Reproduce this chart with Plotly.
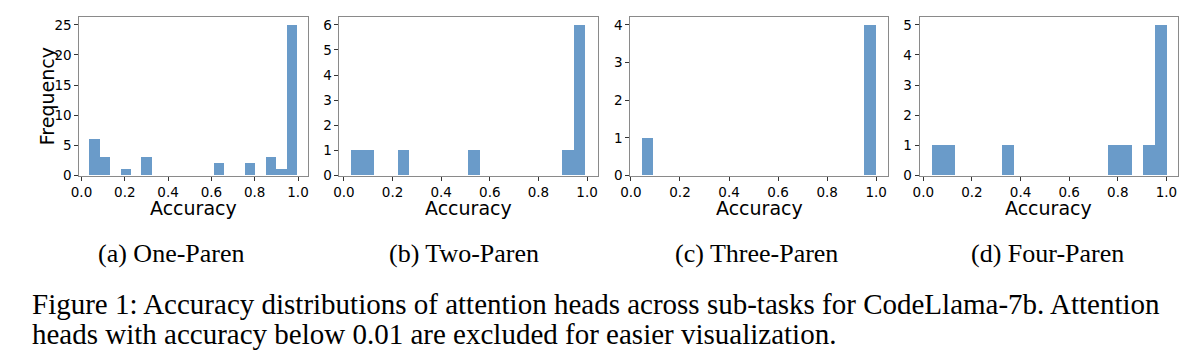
import plotly.graph_objects as go

W, H = 1200, 358

# ---- data (histogram counts, 20 bins per panel) ----
panel_captions = ["(a) One-Paren", "(b) Two-Paren", "(c) Three-Paren", "(d) Four-Paren"]
bin_lo = [0.038, 0.030, 0.045, 0.033]
bin_hi = [0.997, 0.995, 1.000, 1.000]
counts_one   = [6, 3, 0, 1, 0, 3, 0, 0, 0, 0, 0, 0, 2, 0, 0, 2, 0, 3, 1, 25]
counts_two   = [1, 1, 0, 0, 1, 0, 0, 0, 0, 0, 1, 0, 0, 0, 0, 0, 0, 0, 1, 6]
counts_three = [1, 0, 0, 0, 0, 0, 0, 0, 0, 0, 0, 0, 0, 0, 0, 0, 0, 0, 0, 4]
counts_four  = [1, 1, 0, 0, 0, 0, 1, 0, 0, 0, 0, 0, 0, 0, 0, 1, 1, 0, 1, 5]
all_counts = [counts_one, counts_two, counts_three, counts_four]
y_tickvals = [[0, 5, 10, 15, 20, 25], [0, 1, 2, 3, 4, 5, 6], [0, 1, 2, 3, 4], [0, 1, 2, 3, 4, 5]]
x_tickvals = [0.0, 0.2, 0.4, 0.6, 0.8, 1.0]
x_ticktext = ["0.0", "0.2", "0.4", "0.6", "0.8", "1.0"]
x_label = "Accuracy"
y_label = "Frequency"
fig_caption_1 = "Figure 1: Accuracy distributions of attention heads across sub-tasks for CodeLlama-7b. Attention"
fig_caption_2 = "heads with accuracy below 0.01 are excluded for easier visualization."

# ---- layout (pixels) ----
x_dom_px = [(70, 300.5), (332.5, 593), (626, 886), (918, 1179)]
y_top_px, y_bot_px = 16.7, 179
caption_centers_px = [162.5, 458, 753, 1047]

BAR = "rgb(106,155,201)"
SPINE = "#8a8a8a"
TICKFONT = dict(family="DejaVu Sans", size=13.5, color="black")
TITLEFONT = dict(family="DejaVu Sans", size=19, color="black")
SUBCAP = dict(family="Liberation Serif", size=26, color="black")
CAPTION = dict(family="Liberation Serif", size=29, color="black")

def py(p):
    return 1 - p / H

fig = go.Figure()
annotations = []
for i, counts in enumerate(all_counts):
    lo, hi = bin_lo[i], bin_hi[i]
    n = len(counts)
    w = (hi - lo) / n
    xs = [lo + (k + 0.5) * w for k in range(n)]
    ax = "" if i == 0 else str(i + 1)
    fig.add_trace(go.Bar(x=xs, y=counts, width=w, marker=dict(color=BAR, line=dict(width=0)),
                         xaxis="x" + ax, yaxis="y" + ax, showlegend=False, hoverinfo="skip"))
    span = hi - lo
    xr = [lo - 0.05 * span, hi + 0.05 * span]
    yr = [0, max(counts) * 1.05]
    x0, x1 = x_dom_px[i]
    common = dict(showline=True, mirror=True, linecolor=SPINE, linewidth=1,
                  ticks="outside", ticklen=4, tickcolor="#333", tickwidth=1,
                  showgrid=False, zeroline=False, tickfont=TICKFONT)
    fig.update_layout(**{
        "xaxis" + ax: dict(domain=[x0 / W, x1 / W], range=xr, anchor="y" + ax,
                           tickvals=x_tickvals, ticktext=x_ticktext, **common),
        "yaxis" + ax: dict(domain=[py(y_bot_px), py(y_top_px)], range=yr, anchor="x" + ax,
                           tickvals=y_tickvals[i], **common),
    })
    annotations.append(dict(text=x_label, x=(x0 + x1) / 2 / W, y=py(212), xref="paper", yref="paper",
                            xanchor="center", yanchor="middle", showarrow=False, font=TITLEFONT))
    annotations.append(dict(text=panel_captions[i], x=caption_centers_px[i] / W, y=py(259),
                            xref="paper", yref="paper", xanchor="center", yanchor="middle",
                            showarrow=False, font=SUBCAP))

annotations.append(dict(text=y_label, x=37 / W, y=py(98), xref="paper", yref="paper",
                        xanchor="center", yanchor="middle", textangle=-90, showarrow=False, font=TITLEFONT))
annotations.append(dict(text=fig_caption_1, x=20 / W, y=py(311), xref="paper", yref="paper",
                        xanchor="left", yanchor="middle", showarrow=False, font=CAPTION))
annotations.append(dict(text=fig_caption_2, x=20 / W, y=py(342), xref="paper", yref="paper",
                        xanchor="left", yanchor="middle", showarrow=False, font=CAPTION))

fig.update_layout(width=W, height=H, margin=dict(l=0, r=0, t=0, b=0),
                  paper_bgcolor="white", plot_bgcolor="white", bargap=0,
                  hovermode=False, annotations=annotations)
fig.write_html("out.html", config={"displayModeBar": False},
               post_script="document.body.style.margin='0';document.body.style.overflow='hidden';")
